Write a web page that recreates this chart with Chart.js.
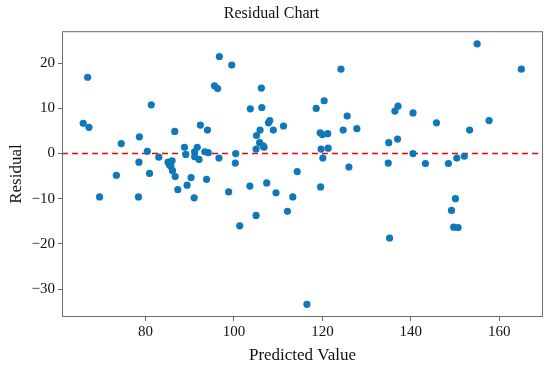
<!DOCTYPE html>
<html>
<head>
<meta charset="utf-8">
<script src="https://cdn.jsdelivr.net/npm/chart.js@4.4.1/dist/chart.umd.min.js"></script>
<style>
  body { margin: 0; background: #fff; }
  #wrap { width: 550px; height: 370px; }
</style>
</head>
<body>
<div id="wrap"><canvas id="chart"></canvas></div>
<script>
// predicted values (x) and residuals (y)
const predicted = [
  65.9, 67.2, 66.9, 74.5, 78.6, 81.3, 80.4, 78.5, 83.0, 86.6,
  88.8, 89.1, 85.1, 86.0, 85.7, 92.4, 94.0, 91.7, 91.1, 91.1,
  92.1, 93.4, 94.2, 96.6, 95.6, 96.3, 96.7, 99.5, 100.4, 100.3,
  103.7, 106.2, 106.3, 107.8, 108.1, 108.9, 111.2, 105.9, 105.1, 105.8,
  106.6, 106.8, 105.0, 124.2, 118.6, 120.4, 119.5, 120.0, 121.2, 119.7,
  121.3, 120.1, 125.6, 124.7, 127.8, 126.0, 136.4, 137.1, 140.5, 135.0,
  137.0, 134.9, 140.5, 143.3, 145.8, 148.5, 150.4, 152.1, 153.3, 155.0,
  157.7, 165.0, 69.6, 73.4, 78.4, 80.9, 86.1, 86.7, 87.3, 89.4,
  90.3, 91.0, 93.8, 98.8, 101.3, 103.6, 105.0, 107.4, 109.5, 112.1,
  113.3, 114.3, 116.5, 85.4, 119.6, 135.2, 150.1, 149.2, 149.7, 150.7
];
const residual = [
  6.7, 5.8, 16.9, 2.2, 3.7, 10.8, 0.5, -1.9, -0.8, 4.9,
  1.4, -0.2, -1.9, -1.6, -2.8, 6.3, 5.2, 1.4, 0.4, -0.7,
  -1.3, 0.4, 0.2, -1.0, 15.0, 14.4, 21.5, 19.6, 0.0, -2.1,
  9.9, 14.5, 10.2, 6.8, 7.3, 5.2, 6.1, 5.2, 4.0, 2.4,
  1.7, 1.4, 1.0, 18.7, 10.0, 11.7, 4.6, 4.2, 4.4, 1.0,
  1.2, -1.0, 8.3, 5.2, 5.5, -3.0, 9.4, 10.5, 9.0, 2.4,
  3.2, -2.1, 0.0, -2.2, 6.8, -2.2, -1.0, -0.6, 5.2, 24.3,
  7.3, 18.7, -9.6, -4.8, -9.6, -4.4, -3.8, -5.1, -8.0, -7.0,
  -5.3, -9.8, -5.7, -8.5, -16.0, -7.2, -13.7, -6.5, -8.7, -12.8,
  -9.6, -4.0, -33.4, -2.5, -7.4, -18.7, -10.0, -12.6, -16.3, -16.4
];

const X_TICKS = [80, 100, 120, 140, 160];
const Y_TICKS = [-30, -20, -10, 0, 10, 20];
const X_MIN = 61.1, X_MAX = 169.9;
const Y_MIN = -36.2, Y_MAX = 27.1;

const SERIF = "'Liberation Serif', 'Times New Roman', serif";

// full box around the plot, like matplotlib spines
const boxPlugin = {
  id: 'box',
  afterDraw(c) {
    const a = c.chartArea, ctx = c.ctx;
    ctx.save();
    ctx.strokeStyle = '#6b6b6b';
    ctx.lineWidth = 1;
    ctx.strokeRect(a.left + 0.5, a.top + 0.5, a.right - a.left - 1, a.bottom - a.top - 1);
    ctx.restore();
  }
};

const points = predicted.map((x, i) => ({ x, y: residual[i] }));

new Chart(document.getElementById('chart'), {
  type: 'scatter',
  data: {
    datasets: [
      {
        data: points,
        backgroundColor: '#0e78ba',
        borderColor: '#0e78ba',
        pointRadius: 3.6,
        pointBorderWidth: 0
      },
      {
        type: 'line',
        data: [{ x: X_MIN, y: 0 }, { x: X_MAX, y: 0 }],
        borderColor: '#ff0000',
        borderWidth: 1.5,
        borderDash: [6, 4],
        pointRadius: 0,
        fill: false
      }
    ]
  },
  options: {
    animation: false,
    responsive: true,
    maintainAspectRatio: false,
    layout: { padding: { right: 7, left: 0, top: 0, bottom: 0 } },
    scales: {
      x: {
        type: 'linear',
        min: X_MIN,
        max: X_MAX,
        afterBuildTicks: ax => { ax.ticks = X_TICKS.map(v => ({ value: v })); },
        afterFit: ax => { ax.height = 53; },
        ticks: { color: '#111', font: { family: SERIF, size: 15 }, padding: 2 },
        grid: { drawOnChartArea: false, drawTicks: true, tickLength: 4, color: '#6b6b6b' },
        border: { display: false },
        title: {
          display: true,
          text: 'Predicted Value',
          color: '#111',
          font: { family: SERIF, size: 17 },
          padding: { top: 0, bottom: 4 }
        }
      },
      y: {
        min: Y_MIN,
        max: Y_MAX,
        afterBuildTicks: ax => { ax.ticks = Y_TICKS.map(v => ({ value: v })); },
        afterFit: ax => { ax.width = 62; },
        ticks: {
          color: '#111',
          font: { family: SERIF, size: 15 },
          padding: 3,
          callback: v => String(v).replace('-', '\u2212')
        },
        grid: { drawOnChartArea: false, drawTicks: true, tickLength: 4, color: '#6b6b6b' },
        border: { display: false },
        title: {
          display: true,
          text: 'Residual',
          color: '#111',
          font: { family: SERIF, size: 17 },
          padding: { top: 6, bottom: 0 }
        }
      }
    },
    plugins: {
      legend: { display: false },
      tooltip: { enabled: false },
      title: {
        display: true,
        text: 'Residual Chart',
        color: '#111',
        font: { family: SERIF, size: 16, weight: 'normal' },
        padding: { top: 4, bottom: 8 }
      }
    }
  },
  plugins: [boxPlugin]
});
</script>
</body>
</html>
